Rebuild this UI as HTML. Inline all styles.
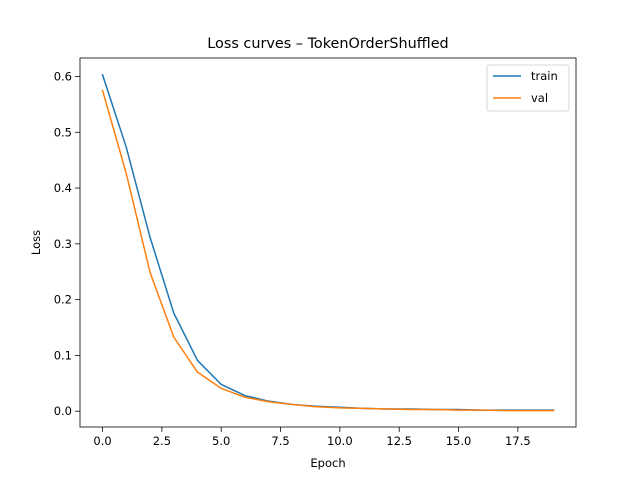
<!DOCTYPE html>
<html><head><meta charset="utf-8"><style>
body{margin:0;background:#fff;}
svg{display:block;font-family:"DejaVu Sans","Liberation Sans",sans-serif;}
</style></head><body>
<svg id="chart" width="640" height="480" viewBox="0 0 640 480"></svg>
<script>
const epochs=[0,1,2,3,4,5,6,7,8,9,10,11,12,13,14,15,16,17,18,19];
const trainLoss=[0.603,0.473,0.312,0.176,0.091,0.048,0.028,0.018,0.012,0.009,0.007,0.005,0.004,0.004,0.003,0.003,0.002,0.002,0.002,0.002];
const valLoss=[0.575,0.426,0.249,0.133,0.070,0.041,0.025,0.017,0.012,0.008,0.006,0.005,0.004,0.003,0.003,0.002,0.002,0.001,0.001,0.001];
const xTicks=[0,2.5,5,7.5,10,12.5,15,17.5];
const xTickLabels=["0.0","2.5","5.0","7.5","10.0","12.5","15.0","17.5"];
const yTicks=[0,0.1,0.2,0.3,0.4,0.5,0.6];
const yTickLabels=["0.0","0.1","0.2","0.3","0.4","0.5","0.6"];

const L=80,R=576,T=58,B=427;
const xMin=-0.95,xMax=19.95;
const yMin=-0.0283,yMax=0.6331;
const sx=v=>L+(v-xMin)/(xMax-xMin)*(R-L);
const sy=v=>B-(v-yMin)/(yMax-yMin)*(B-T);
const NS="http://www.w3.org/2000/svg";
const svg=document.getElementById('chart');
function mk(tag,attrs,parent){const e=document.createElementNS(NS,tag);for(const k in attrs)e.setAttribute(k,attrs[k]);(parent||svg).appendChild(e);return e;}

const title=mk('text',{x:(L+R)/2,y:48,'text-anchor':'middle','font-size':14.4,fill:'#000'});


title.textContent='Loss curves – TokenOrderShuffled';

xTicks.forEach((t,i)=>{
  const x=sx(t);
  const tk=mk('line',{x1:x,x2:x,y1:B,y2:B+4.9,stroke:'#000','stroke-width':0.8});
  
  
  const lb=mk('text',{x:x,y:B+18,'text-anchor':'middle','font-size':11.5});
  
  
  lb.textContent=xTickLabels[i];
});
yTicks.forEach((t,i)=>{
  const y=sy(t);
  const tk=mk('line',{x1:L-4.9,x2:L,y1:y,y2:y,stroke:'#000','stroke-width':0.8});
  
  
  const lb=mk('text',{x:L-8,y:y+4,'text-anchor':'end','font-size':11.5});
  
  
  lb.textContent=yTickLabels[i];
});

function series(vals,color,name){
  const p=mk('polyline',{points:vals.map((v,i)=>sx(epochs[i])+','+sy(v)).join(' '),fill:'none',stroke:color,'stroke-width':1.5,'stroke-linejoin':'round','stroke-linecap':'square'});
  
  
}
series(trainLoss,'#1f77b4','train-line');
series(valLoss,'#ff7f0e','val-line');

const frame=mk('rect',{x:L,y:T,width:R-L,height:B-T,fill:'none',stroke:'#000','stroke-width':0.8});



const xl=mk('text',{x:(L+R)/2,y:467,'text-anchor':'middle','font-size':11.5});


xl.textContent='Epoch';
const yl=mk('text',{x:0,y:0,'text-anchor':'middle','font-size':11.5,transform:`translate(40,${(T+B)/2}) rotate(-90)`});


yl.textContent='Loss';

const lg=mk('g',{});


mk('rect',{x:487,y:65,width:82,height:46,rx:2,fill:'#fff',stroke:'#ccc','stroke-width':0.8,'fill-opacity':0.8},lg);
[['train','#1f77b4',76],['val','#ff7f0e',98]].forEach(([n,c,y])=>{
  const ln=mk('line',{x1:493,x2:521,y1:y,y2:y,stroke:c,'stroke-width':1.5},lg);
  
  
  const t=mk('text',{x:531,y:y+4,'font-size':11.5},lg);
  
  
  t.textContent=n;
});
</script>
</body></html>
